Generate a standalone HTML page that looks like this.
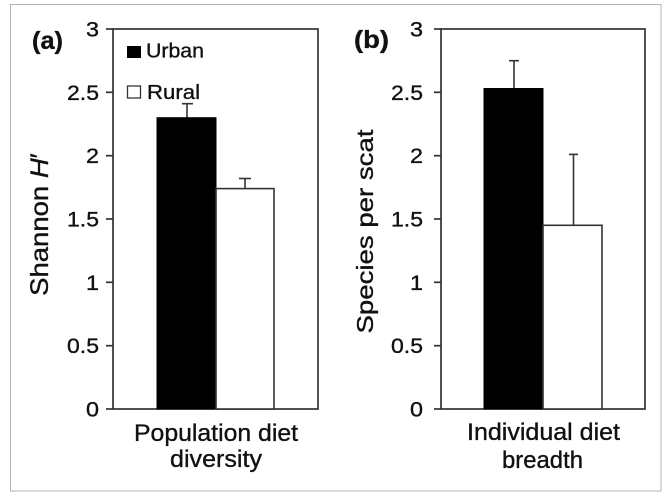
<!DOCTYPE html>
<html><head><meta charset="utf-8"><style>
html,body{margin:0;padding:0;background:#fff;}
svg{display:block;}
text{font-family:"Liberation Sans",Arial,sans-serif;fill:#111;stroke:#111;stroke-width:0.35px;}
</style></head><body>
<svg width="672" height="498" viewBox="0 0 672 498" xmlns="http://www.w3.org/2000/svg">
<rect x="0" y="0" width="672" height="498" fill="#fff"/>
<rect x="10.5" y="4.5" width="650.5" height="486.5" fill="none" stroke="#b4b4b4" stroke-width="1"/>

<!-- Panel A -->
<g stroke="#333" stroke-width="1.7" fill="none">
  <rect x="113" y="29" width="205" height="380"/>
  <line x1="106" y1="29" x2="113" y2="29"/>
  <line x1="106" y1="92.3" x2="113" y2="92.3"/>
  <line x1="106" y1="155.7" x2="113" y2="155.7"/>
  <line x1="106" y1="219" x2="113" y2="219"/>
  <line x1="106" y1="282.3" x2="113" y2="282.3"/>
  <line x1="106" y1="345.7" x2="113" y2="345.7"/>
  <line x1="106" y1="409" x2="113" y2="409"/>
</g>
<g stroke="#333" stroke-width="1.6">
  <line x1="187" y1="117.7" x2="187" y2="103.7"/>
  <line x1="182" y1="103.7" x2="193" y2="103.7"/>
  <line x1="245" y1="188.6" x2="245" y2="178.5"/>
  <line x1="239" y1="178.5" x2="251" y2="178.5"/>
</g>
<rect x="157" y="117.7" width="59" height="291.3" fill="#000" stroke="#000" stroke-width="1"/>
<rect x="216" y="188.6" width="58" height="220.4" fill="#fff" stroke="#333" stroke-width="1.6"/>

<g font-size="21" text-anchor="end">
  <text x="99" y="36.5" textLength="13" lengthAdjust="spacingAndGlyphs">3</text>
  <text x="99" y="99.8" textLength="32" lengthAdjust="spacingAndGlyphs">2.5</text>
  <text x="99" y="163.2" textLength="13" lengthAdjust="spacingAndGlyphs">2</text>
  <text x="99" y="226.5" textLength="32" lengthAdjust="spacingAndGlyphs">1.5</text>
  <text x="99" y="289.8" textLength="13" lengthAdjust="spacingAndGlyphs">1</text>
  <text x="99" y="353.2" textLength="32" lengthAdjust="spacingAndGlyphs">0.5</text>
  <text x="99" y="416.5" textLength="13" lengthAdjust="spacingAndGlyphs">0</text>
</g>
<text x="32" y="49" font-size="25" font-weight="bold" textLength="31" lengthAdjust="spacingAndGlyphs">(a)</text>

<rect x="127" y="46" width="14" height="12" fill="#000"/>
<text x="146" y="57.5" font-size="20" textLength="58" lengthAdjust="spacingAndGlyphs">Urban</text>
<rect x="127.5" y="86" width="13" height="12" fill="#fff" stroke="#333" stroke-width="1.3"/>
<text x="147" y="99" font-size="20" textLength="53" lengthAdjust="spacingAndGlyphs">Rural</text>

<g transform="translate(48,224.5) rotate(-90) scale(1.1,1)">
  <text x="0" y="0" font-size="25" text-anchor="middle">Shannon <tspan font-style="italic">H</tspan>′</text>
</g>

<text x="216" y="441" font-size="24" text-anchor="middle" textLength="164" lengthAdjust="spacingAndGlyphs">Population diet</text>
<text x="216" y="467" font-size="24" text-anchor="middle" textLength="92" lengthAdjust="spacingAndGlyphs">diversity</text>

<!-- Panel B -->
<g stroke="#333" stroke-width="1.7" fill="none">
  <rect x="441" y="29" width="204" height="380"/>
  <line x1="434" y1="29" x2="441" y2="29"/>
  <line x1="434" y1="92.3" x2="441" y2="92.3"/>
  <line x1="434" y1="155.7" x2="441" y2="155.7"/>
  <line x1="434" y1="219" x2="441" y2="219"/>
  <line x1="434" y1="282.3" x2="441" y2="282.3"/>
  <line x1="434" y1="345.7" x2="441" y2="345.7"/>
  <line x1="434" y1="409" x2="441" y2="409"/>
</g>
<g stroke="#333" stroke-width="1.6">
  <line x1="514" y1="88.5" x2="514" y2="60.7"/>
  <line x1="509" y1="60.7" x2="519" y2="60.7"/>
  <line x1="573.5" y1="225.3" x2="573.5" y2="154.4"/>
  <line x1="569" y1="154.4" x2="578" y2="154.4"/>
</g>
<rect x="484" y="88.5" width="59" height="320.5" fill="#000" stroke="#000" stroke-width="1"/>
<rect x="543" y="225.3" width="59" height="183.7" fill="#fff" stroke="#333" stroke-width="1.6"/>

<g font-size="21" text-anchor="end">
  <text x="423" y="36.5" textLength="13" lengthAdjust="spacingAndGlyphs">3</text>
  <text x="423" y="99.8" textLength="32" lengthAdjust="spacingAndGlyphs">2.5</text>
  <text x="423" y="163.2" textLength="13" lengthAdjust="spacingAndGlyphs">2</text>
  <text x="423" y="226.5" textLength="32" lengthAdjust="spacingAndGlyphs">1.5</text>
  <text x="423" y="289.8" textLength="13" lengthAdjust="spacingAndGlyphs">1</text>
  <text x="423" y="353.2" textLength="32" lengthAdjust="spacingAndGlyphs">0.5</text>
  <text x="423" y="416.5" textLength="13" lengthAdjust="spacingAndGlyphs">0</text>
</g>
<text x="354" y="48" font-size="25" font-weight="bold" textLength="35" lengthAdjust="spacingAndGlyphs">(b)</text>

<g transform="translate(373,231.5) rotate(-90)">
  <text x="0" y="0" font-size="23" text-anchor="middle" textLength="204" lengthAdjust="spacingAndGlyphs">Species per scat</text>
</g>

<text x="543.5" y="440" font-size="24" text-anchor="middle" textLength="153" lengthAdjust="spacingAndGlyphs">Individual diet</text>
<text x="542.5" y="468" font-size="24" text-anchor="middle" textLength="81" lengthAdjust="spacingAndGlyphs">breadth</text>
</svg>
</body></html>
